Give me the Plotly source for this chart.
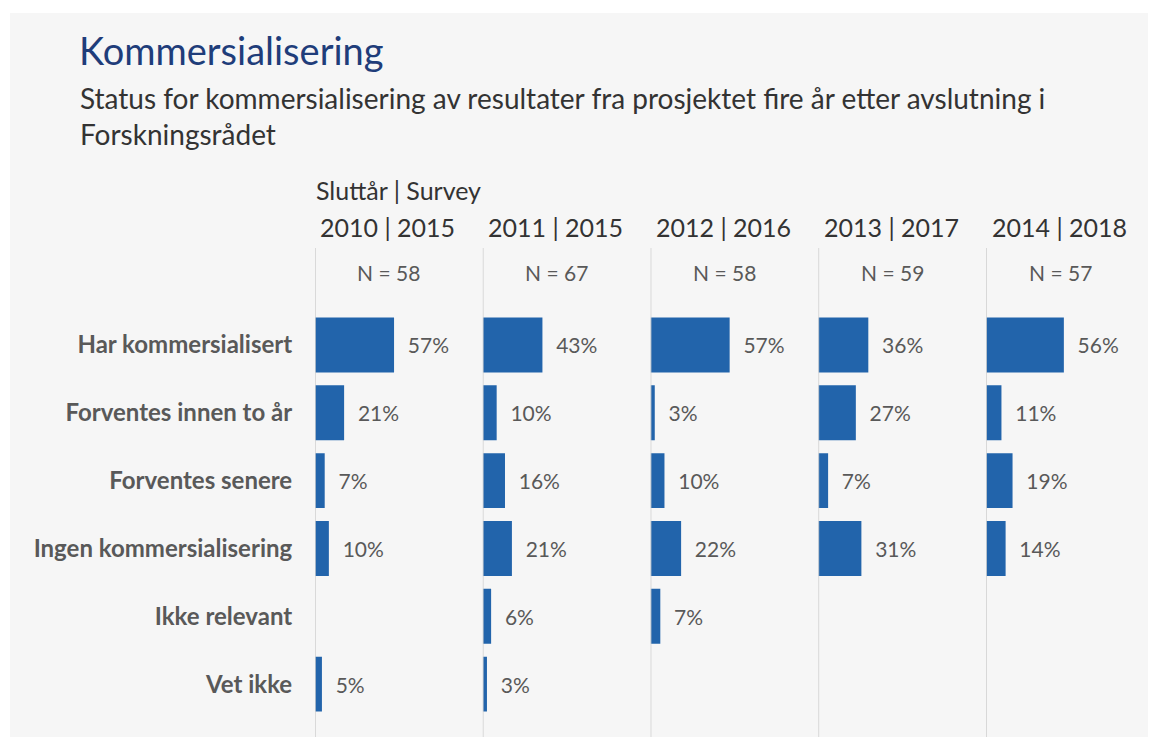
import plotly.graph_objects as go
from plotly.subplots import make_subplots

# data
categories = ['Har kommersialisert', 'Forventes innen to år', 'Forventes senere',
              'Ingen kommersialisering', 'Ikke relevant', 'Vet ikke']
periods = ['2010 | 2015', '2011 | 2015', '2012 | 2016', '2013 | 2017', '2014 | 2018']
n_values = [58, 67, 58, 59, 57]
v2010 = [57, 21, 7, 10, None, 5]
v2011 = [43, 10, 16, 21, 6, 3]
v2012 = [57, 3, 10, 22, 7, None]
v2013 = [36, 27, 7, 31, None, None]
v2014 = [56, 11, 19, 14, None, None]
series = [v2010, v2011, v2012, v2013, v2014]

BLUE = '#2264ab'
FONT = 'Lato'

# page has an 8px body margin, so the figure sits 8px in from the window edge
OFF = 8
W, H = 1148, 739
L, R, T, B = 307, 2, 240, 10
pw, ph = W - L - R, H - T - B


# helpers: window pixel -> paper coords
def px_x(p):
    return (p - OFF - L) / pw


def px_y(p):
    return (H - B - (p - OFF)) / ph


fig = make_subplots(rows=1, cols=5, shared_yaxes=True, horizontal_spacing=0)

for i, vals in enumerate(series):
    txt = ['\u00a0\u00a0%d%%' % v if v is not None else '' for v in vals]
    fig.add_trace(go.Bar(
        x=vals, y=categories, orientation='h',
        marker=dict(color=BLUE, line=dict(width=0)),
        text=txt, textposition='outside', cliponaxis=False,
        textfont=dict(family=FONT, size=21, color='#595959'),
        hoverinfo='skip', showlegend=False,
    ), row=1, col=i + 1)

    xr = 'x' if i == 0 else 'x%d' % (i + 1)
    # vertical separator at 0
    fig.add_shape(type='line', xref=xr, yref='paper', x0=0, x1=0, y0=0, y1=1,
                  line=dict(color='#cfcfcf', width=1.5))
    fig.add_annotation(text=periods[i], xref=xr + ' domain', yref='paper',
                       x=0.02, y=px_y(227), xanchor='left', yanchor='middle',
                       showarrow=False, font=dict(family=FONT, size=25, color='#333333'))
    fig.add_annotation(text='N = %d' % n_values[i], xref=xr + ' domain', yref='paper',
                       x=0.44, y=px_y(272), xanchor='center', yanchor='middle',
                       showarrow=False, font=dict(family=FONT, size=21, color='#595959'))

fig.update_xaxes(range=[0, 121], visible=False, fixedrange=True)
fig.update_yaxes(type='category', categoryorder='array', categoryarray=categories,
                 range=[5.78, -1.43], showgrid=False, zeroline=False,
                 ticks='outside', ticklen=17, tickcolor='rgba(0,0,0,0)',
                 tickfont=dict(family=FONT, size=24, color='#595959', weight='bold'))
fig.update_yaxes(showticklabels=False, ticks='', col=2)
fig.update_yaxes(showticklabels=False, ticks='', col=3)
fig.update_yaxes(showticklabels=False, ticks='', col=4)
fig.update_yaxes(showticklabels=False, ticks='', col=5)

# grey card behind everything
fig.add_shape(type='rect', xref='paper', yref='paper', layer='below',
              x0=px_x(10), x1=px_x(1170), y0=px_y(737), y1=px_y(13),
              fillcolor='#f6f6f6', line=dict(width=0))

fig.add_annotation(text='Kommersialisering', xref='paper', yref='paper',
                   x=px_x(77), y=px_y(50), xanchor='left', yanchor='middle',
                   showarrow=False, font=dict(family=FONT, size=38, color='#1f3d7a'))
fig.add_annotation(text='Status for kommersialisering av resultater fra prosjektet fire år etter avslutning i<br>Forskningsrådet',
                   xref='paper', yref='paper', x=px_x(78), y=px_y(116),
                   xanchor='left', yanchor='middle', align='left', showarrow=False,
                   font=dict(family=FONT, size=28, color='#333333'))
fig.add_annotation(text='Sluttår | Survey', xref='paper', yref='paper',
                   x=px_x(314), y=px_y(190), xanchor='left', yanchor='middle',
                   showarrow=False, font=dict(family=FONT, size=25, color='#333333'))

fig.update_layout(
    width=W, height=H,
    margin=dict(l=L, r=R, t=T, b=B),
    paper_bgcolor='white', plot_bgcolor='rgba(0,0,0,0)',
    bargap=0.19,
    font=dict(family=FONT),
)

fig.write_html('out.html')
